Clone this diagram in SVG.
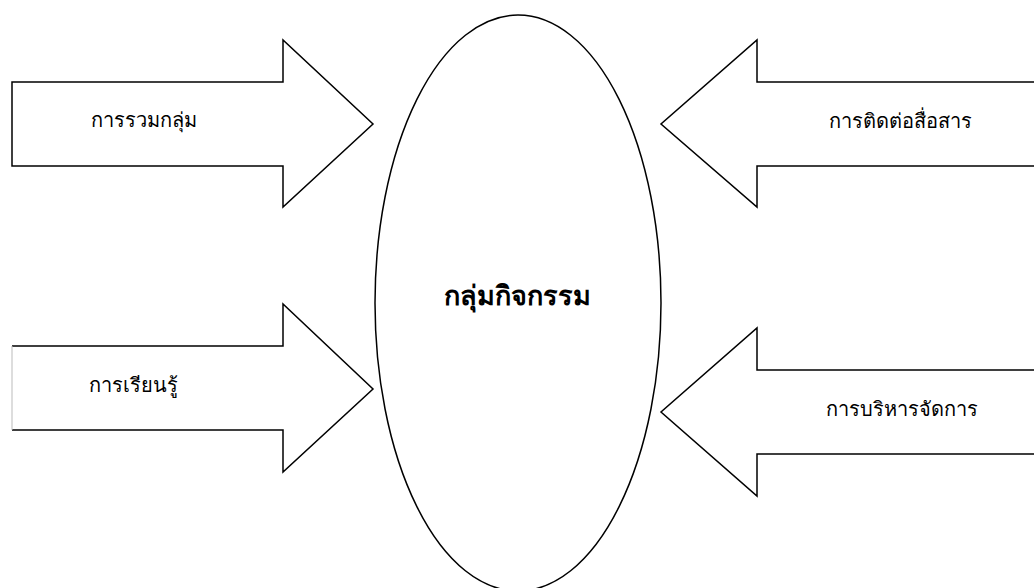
<svg xmlns="http://www.w3.org/2000/svg" width="1034" height="588" viewBox="0 0 1034 588">
<style>
.shape{fill:#fff;stroke:#000;stroke-width:1.5;stroke-linejoin:miter}
.lbl{font-family:"Liberation Serif","DejaVu Serif","Noto Sans",serif;font-size:20px;fill:#000}
.ctr{font-family:"Liberation Serif","DejaVu Serif","Noto Sans",serif;font-size:27px;font-weight:bold;fill:#000;text-anchor:middle}
</style>
<rect width="1034" height="588" fill="#fff"/>
<g id="connectors">
<g id="arrow-top-left">
<polygon class="shape" points="12,82 283,82 283,40 373,124 283,207 283,166 12,166"/>
</g>
<g id="arrow-bottom-left">
<path class="shape" d="M12,346 L283,346 L283,304 L373,389 L283,472 L283,430 L12,430"/>
<line x1="12" y1="346" x2="12" y2="430" stroke="#bbb" stroke-width="1"/>
</g>
<g id="arrow-top-right">
<polygon class="shape" points="1036,82 757,82 757,40 661,124 757,207 757,166 1036,166"/>
</g>
<g id="arrow-bottom-right">
<polygon class="shape" points="1036,370 757,370 757,328 661,412 757,496 757,454 1036,454"/>
</g>
</g>
<g id="node-center">
<ellipse class="shape" cx="518" cy="303" rx="143" ry="288"/>
<text class="ctr" x="517" y="305">กลุ่มกิจกรรม</text>
</g>
<g id="node-grouping">
<text class="lbl" x="91" y="127">การรวมกลุ่ม</text>
</g>
<g id="node-learning">
<text class="lbl" x="89" y="392">การเรียนรู้</text>
</g>
<g id="node-communication">
<text class="lbl" x="829" y="128">การติดต่อสื่อสาร</text>
</g>
<g id="node-management">
<text class="lbl" x="826" y="416">การบริหารจัดการ</text>
</g>
</svg>
